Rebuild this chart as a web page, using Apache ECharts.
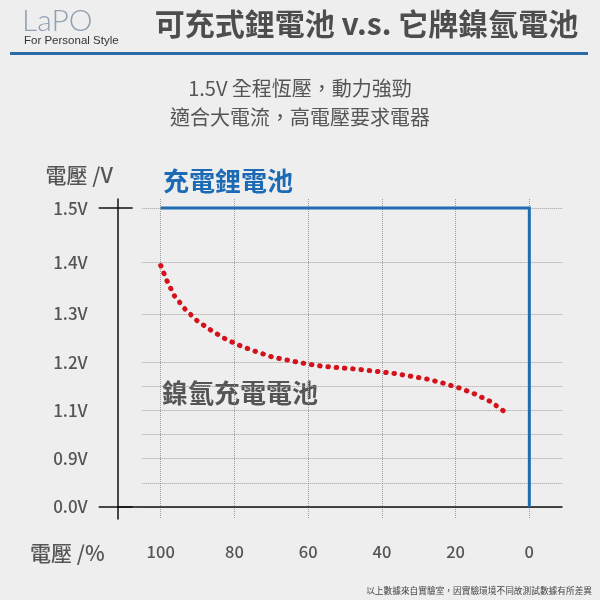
<!DOCTYPE html>
<html><head><meta charset="utf-8">
<script src="https://cdn.jsdelivr.net/npm/echarts@6/dist/echarts.min.js"></script>
<style>html,body{margin:0;padding:0;background:#eeeeee}#c{width:600px;height:600px}</style>
</head><body><div id="c"></div>
<script>
// ---- data ----
const pctTicks = [100, 80, 60, 40, 20, 0];
const voltTicks = [0.0, 0.9, 1.1, 1.2, 1.3, 1.4, 1.5];
const voltTickLabels = ['0.0V', '0.9V', '1.1V', '1.2V', '1.3V', '1.4V', '1.5V'];
const liIonPct = [100, 0, 0];
const liIonVolt = [1.5, 1.5, 0.0];
const nimhPct = [100, 98.3, 96.3, 93.4, 90.2, 86.4, 82.5, 78.2, 73.9, 69.5, 64.9, 60.3, 55.7, 51.0, 46.4, 41.8, 37.1, 32.4, 27.8, 23.2, 18.8, 14.5, 10.2, 8.2, 6.4];
const nimhVolt = [1.394, 1.364, 1.335, 1.309, 1.286, 1.266, 1.248, 1.233, 1.221, 1.210, 1.203, 1.196, 1.191, 1.188, 1.185, 1.181, 1.177, 1.171, 1.165, 1.156, 1.146, 1.133, 1.117, 1.105, 1.092];

// ---- non-linear voltage axis layout (axis units per labelled tick) ----
const voltSlots = [0, 4, 8, 12, 16, 20.25, 24.75];
const gridSlots = [0, 2, 4, 6, 8, 10, 12, 16, 20.25, 24.75];
function volt2slot(v) {
  for (let i = 0; i < voltTicks.length - 1; i++) {
    const a = voltTicks[i], b = voltTicks[i + 1];
    if (v >= a && v <= b) return voltSlots[i] + (v - a) / (b - a) * (voltSlots[i + 1] - voltSlots[i]);
  }
  return v < voltTicks[0] ? voltSlots[0] : voltSlots[voltSlots.length - 1];
}
const Y_MIN = -1, Y_MAX = 25.5, Y_INT = 0.25;
const X_MIN = -9, X_MAX = 105, X_INT = 1;
const GRIDC = '#9c9c9c', NONE = 'rgba(0,0,0,0)';
const yLineColors = [];
for (let v = Y_MIN; v <= Y_MAX + 1e-9; v += Y_INT) {
  yLineColors.push(gridSlots.some(s => Math.abs(s - v) < 1e-6) ? GRIDC : NONE);
}
const xLineColors = [];
for (let v = X_MIN; v <= X_MAX; v += X_INT) {
  xLineColors.push(pctTicks.indexOf(v) >= 0 ? GRIDC : NONE);
}
const FONT = '"Noto Sans CJK TC", "Noto Sans", sans-serif';
const TXT = '#555555';
const endTicks = [voltSlots[0], voltSlots[voltSlots.length - 1]];

const chart = echarts.init(document.getElementById('c'), null, {renderer: 'canvas'});
chart.setOption({
  backgroundColor: '#eeeeee',
  animation: false,
  textStyle: {fontFamily: FONT},
  grid: [
    {left: 117.7, right: 38, top: 199, bottom: 80.9},
    {left: 142.3, right: 37.5, top: 199, bottom: 80.9}
  ],
  xAxis: [
    {gridIndex: 0, type: 'value', min: 0, max: 1,
     axisLine: {show: true, lineStyle: {color: '#111', width: 1.5}},
     axisTick: {show: false}, axisLabel: {show: false}, splitLine: {show: false}},
    {gridIndex: 1, type: 'value', min: X_MIN, max: X_MAX, interval: X_INT, inverse: true,
     axisLine: {show: false}, axisTick: {show: false},
     axisLabel: {show: true, customValues: pctTicks, margin: 24, color: TXT, fontSize: 16.5, fontWeight: 500, fontFamily: FONT,
                 formatter: v => (pctTicks.indexOf(v) >= 0 ? String(v) : '')},
     splitLine: {show: true, lineStyle: {color: xLineColors, type: 'dotted', width: 1}}}
  ],
  yAxis: [
    {gridIndex: 0, type: 'value', position: 'left', min: Y_MIN, max: Y_MAX,
     axisLine: {show: true, lineStyle: {color: '#111', width: 1.5}},
     axisTick: {show: true, customValues: endTicks, length: 19, lineStyle: {color: '#111', width: 1.5}},
     axisLabel: {show: true, customValues: voltSlots, margin: 30, color: TXT, fontSize: 17, fontWeight: 500, fontFamily: FONT,
                 formatter: v => { const i = voltSlots.findIndex(s => Math.abs(s - v) < 1e-6); return i >= 0 ? voltTickLabels[i] : ''; }},
     splitLine: {show: false}},
    {gridIndex: 0, type: 'value', position: 'left', offset: 0, min: Y_MIN, max: Y_MAX,
     axisLine: {show: false},
     axisTick: {show: true, inside: true, customValues: endTicks, length: 15, lineStyle: {color: '#111', width: 1.5}},
     axisLabel: {show: false}, splitLine: {show: false}},
    {gridIndex: 1, type: 'value', min: Y_MIN, max: Y_MAX, interval: Y_INT,
     axisLine: {show: false}, axisTick: {show: false}, axisLabel: {show: false},
     splitLine: {show: true, lineStyle: {color: yLineColors, type: 'dotted', width: 1}}}
  ],
  series: [
    {name: '充電鋰電池', type: 'line', xAxisIndex: 1, yAxisIndex: 2, symbol: 'none',
     data: liIonPct.map((p, i) => [p, volt2slot(liIonVolt[i])]),
     lineStyle: {color: '#1f6cb2', width: 3, join: 'miter'}, z: 3},
    {name: '鎳氫充電電池', type: 'line', xAxisIndex: 1, yAxisIndex: 2, symbol: 'none',
     data: nimhPct.map((p, i) => [p, volt2slot(nimhVolt[i])]),
     lineStyle: {color: '#d3121c', width: 5, type: [0.5, 7.8], cap: 'round'}, z: 4}
  ],
  graphic: [
    {type: 'text', left: 22, top: 6, style: {text: 'LaPO', font: '300 30px Lato, sans-serif', fill: '#8fa1b2'}},
    {type: 'text', left: 24, top: 35, style: {text: 'For Personal Style', font: '11.5px "Liberation Sans", sans-serif', fill: '#333'}},
    {type: 'rect', shape: {x: 10, y: 52, width: 578, height: 3}, style: {fill: '#2a6aa8'}},
    {type: 'text', x: 366.5, y: 24, style: {text: '可充式鋰電池 v.s. 它牌鎳氫電池', font: 'bold 30px ' + FONT, fill: '#4d4d4d', textAlign: 'center', textVerticalAlign: 'middle'}},
    {type: 'text', x: 300, y: 88, style: {text: '1.5V 全程恆壓，動力強勁', font: '20px ' + FONT, fill: TXT, textAlign: 'center', textVerticalAlign: 'middle'}},
    {type: 'text', x: 300, y: 117, style: {text: '適合大電流，高電壓要求電器', font: '20px ' + FONT, fill: TXT, textAlign: 'center', textVerticalAlign: 'middle'}},
    {type: 'text', x: 113, y: 175, style: {text: '電壓 /V', font: '500 21px ' + FONT, fill: TXT, textAlign: 'right', textVerticalAlign: 'middle'}},
    {type: 'text', x: 30, y: 553, style: {text: '電壓 /%', font: '500 21px ' + FONT, fill: TXT, textAlign: 'left', textVerticalAlign: 'middle'}},
    {type: 'text', x: 163, y: 181, style: {text: '充電鋰電池', font: 'bold 26px ' + FONT, fill: '#1d6ab4', textAlign: 'left', textVerticalAlign: 'middle'}},
    {type: 'text', x: 162, y: 393, style: {text: '鎳氫充電電池', font: 'bold 26px ' + FONT, fill: TXT, textAlign: 'left', textVerticalAlign: 'middle'}},
    {type: 'text', x: 592, y: 591, style: {text: '以上數據來自實驗室，因實驗環境不同故測試數據有所差異', font: '8.7px ' + FONT, fill: '#444', textAlign: 'right', textVerticalAlign: 'middle'}}
  ]
});
</script></body></html>
